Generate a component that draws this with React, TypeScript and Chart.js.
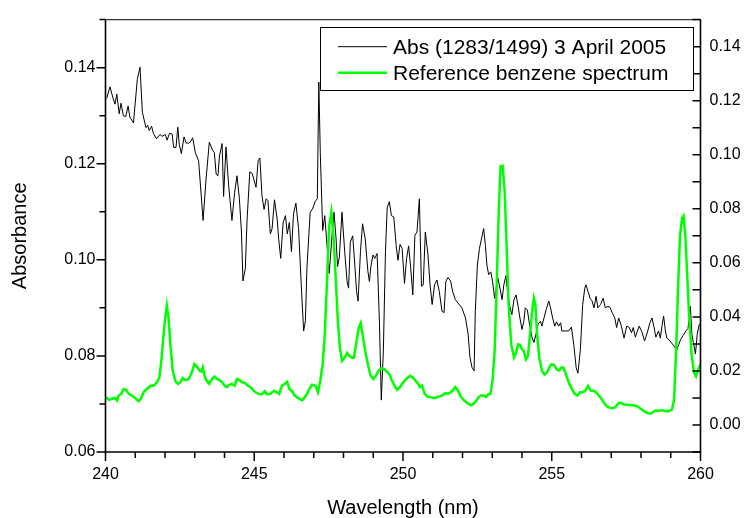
import { useEffect, useRef } from 'react';
import { Chart, registerables } from 'chart.js';

Chart.register(...registerables);

const FONT = "'Liberation Sans', Arial, Helvetica, sans-serif";

// Axis tick labels
const X_TICKS = [240, 245, 250, 255, 260];
const LEFT_TICKS = [0.06, 0.08, 0.1, 0.12, 0.14];
const RIGHT_TICKS = [0.0, 0.02, 0.04, 0.06, 0.08, 0.1, 0.12, 0.14];

const X_TITLE = 'Wavelength (nm)';
const Y_TITLE = 'Absorbance';
const SERIES_LABELS = ['Abs (1283/1499) 3 April 2005', 'Reference benzene spectrum'];

// Measured absorbance (left axis)
const ABS_NM = [
  240.04, 240.15, 240.26, 240.32, 240.38, 240.46, 240.52, 240.6, 240.68, 240.76, 240.82, 240.94,
  241.07, 241.16, 241.24, 241.36, 241.42, 241.47, 241.55, 241.61, 241.72, 241.83, 241.9, 242.01,
  242.07, 242.15, 242.24, 242.29, 242.37, 242.43, 242.48, 242.55, 242.64, 242.71, 242.8, 242.85,
  242.93, 243.02, 243.13, 243.28, 243.38, 243.49, 243.6, 243.66, 243.72, 243.78, 243.83, 243.92,
  243.97, 244.05, 244.14, 244.25, 244.34, 244.42, 244.5, 244.57, 244.62, 244.7, 244.76, 244.85,
  244.93, 245.06, 245.13, 245.19, 245.26, 245.33, 245.4, 245.46, 245.54, 245.6, 245.68, 245.77,
  245.82, 245.89, 245.97, 246.05, 246.11, 246.18, 246.25, 246.32, 246.4, 246.49, 246.58, 246.66,
  246.72, 246.77, 246.88, 246.96, 247.05, 247.12, 247.17, 247.22, 247.3, 247.37, 247.43, 247.52,
  247.61, 247.68, 247.75, 247.8, 247.86, 247.95, 248.04, 248.12, 248.17, 248.23, 248.31, 248.38,
  248.44, 248.49, 248.57, 248.64, 248.73, 248.82, 248.87, 248.92, 248.99, 249.05, 249.13, 249.21,
  249.27, 249.34, 249.41, 249.47, 249.54, 249.61, 249.69, 249.77, 249.83, 249.9, 249.97, 250.05,
  250.12, 250.19, 250.26, 250.33, 250.4, 250.47, 250.55, 250.62, 250.68, 250.75, 250.84, 250.91,
  250.98, 251.06, 251.14, 251.22, 251.31, 251.38, 251.44, 251.51, 251.6, 251.67, 251.76, 251.85,
  251.98, 252.1, 252.19, 252.25, 252.32, 252.39, 252.43, 252.5, 252.57, 252.63, 252.71, 252.77,
  252.82, 252.88, 252.95, 253.01, 253.08, 253.15, 253.19, 253.26, 253.33, 253.39, 253.46, 253.53,
  253.6, 253.66, 253.73, 253.8, 253.87, 253.93, 254.0, 254.06, 254.11, 254.18, 254.25, 254.34,
  254.4, 254.47, 254.54, 254.62, 254.67, 254.74, 254.81, 254.9, 254.96, 255.03, 255.1, 255.16,
  255.23, 255.3, 255.34, 255.46, 255.57, 255.66, 255.74, 255.82, 255.88, 255.96, 256.04, 256.11,
  256.15, 256.22, 256.29, 256.35, 256.42, 256.49, 256.55, 256.64, 256.73, 256.8, 256.89, 256.96,
  257.03, 257.12, 257.18, 257.25, 257.34, 257.43, 257.52, 257.61, 257.68, 257.74, 257.81, 257.88,
  257.94, 258.03, 258.12, 258.21, 258.3, 258.37, 258.44, 258.5, 258.59, 258.65, 258.71, 258.76,
  258.82, 258.87, 258.95, 259.04, 259.13, 259.2, 259.27, 259.33, 259.42, 259.51, 259.58, 259.66,
  259.71, 259.76, 259.83, 259.89, 259.96, 260.0,
];
const ABS_VAL = [
  0.1336, 0.136, 0.1335, 0.1324, 0.1345, 0.1304, 0.1326, 0.13, 0.1298, 0.132, 0.1297, 0.1285,
  0.1376, 0.1401, 0.1307, 0.1275, 0.128, 0.1269, 0.1278, 0.1263, 0.1252, 0.1261, 0.1257, 0.1261,
  0.1249, 0.1263, 0.1262, 0.1234, 0.1234, 0.1276, 0.124, 0.1221, 0.1256, 0.1243, 0.1243, 0.1245,
  0.1254, 0.1223, 0.1206, 0.1082, 0.1168, 0.1245, 0.1228, 0.1223, 0.1178, 0.1175, 0.1216, 0.1242,
  0.1132, 0.1235, 0.1154, 0.1082, 0.114, 0.1175, 0.1127, 0.1058, 0.0956, 0.0982, 0.1085, 0.1183,
  0.118, 0.1151, 0.1206, 0.1212, 0.1133, 0.1105, 0.1127, 0.1123, 0.1054, 0.1065, 0.1125, 0.1085,
  0.1044, 0.1003, 0.1077, 0.1092, 0.1054, 0.1078, 0.1017, 0.1096, 0.1118, 0.1065, 0.0948, 0.0852,
  0.0873, 0.0982, 0.1099, 0.1106, 0.1122, 0.1127, 0.137, 0.1223, 0.1061, 0.1092, 0.1044, 0.0972,
  0.1048, 0.1099, 0.1044, 0.0986, 0.1006, 0.1099, 0.1017, 0.0955, 0.0941, 0.1037, 0.105, 0.0989,
  0.0934, 0.0914, 0.1017, 0.1075, 0.1044, 0.0976, 0.0955, 0.0986, 0.101, 0.1003, 0.1013, 0.0866,
  0.0708, 0.0811, 0.1017, 0.1109, 0.1121, 0.1092, 0.1089, 0.103, 0.0999, 0.1032, 0.1024, 0.0951,
  0.1003, 0.1029, 0.0982, 0.0927, 0.1051, 0.1058, 0.1127, 0.0945, 0.0948, 0.1058, 0.101, 0.0948,
  0.0907, 0.0948, 0.0958, 0.0934, 0.0893, 0.089, 0.0955, 0.0963, 0.0956, 0.0934, 0.0917, 0.091,
  0.09, 0.0879, 0.0845, 0.0797, 0.0776, 0.0769, 0.0893, 0.0989, 0.1024, 0.1041, 0.1065, 0.103,
  0.0989, 0.0969, 0.0975, 0.0955, 0.092, 0.0948, 0.0962, 0.0941, 0.0917, 0.0948, 0.0967, 0.0924,
  0.09, 0.0886, 0.0917, 0.0927, 0.0903, 0.0879, 0.0855, 0.0872, 0.09, 0.0896, 0.0866, 0.0838,
  0.0828, 0.0845, 0.0866, 0.0872, 0.0862, 0.0879, 0.0896, 0.0914, 0.09, 0.0879, 0.0862, 0.0871,
  0.0862, 0.0869, 0.0852, 0.0852, 0.0852, 0.086, 0.0824, 0.0776, 0.0764, 0.0811, 0.0907, 0.0941,
  0.0948, 0.0934, 0.092, 0.0915, 0.09, 0.0924, 0.09, 0.0907, 0.092, 0.09, 0.0903, 0.0901,
  0.089, 0.0879, 0.0859, 0.0879, 0.0862, 0.0837, 0.0862, 0.0859, 0.0848, 0.0859, 0.0839, 0.0852,
  0.0862, 0.085, 0.0831, 0.0848, 0.0869, 0.0879, 0.0859, 0.0839, 0.0852, 0.0837, 0.0864, 0.0883,
  0.0852, 0.0837, 0.0833, 0.0826, 0.0819, 0.0812, 0.0824, 0.0834, 0.0843, 0.0852, 0.0857, 0.0903,
  0.0845, 0.0828, 0.0804, 0.0845, 0.0866, 0.0868,
];

// Reference benzene spectrum (right axis)
const REF_NM = [
  240.03, 240.11, 240.22, 240.33, 240.39, 240.44, 240.53, 240.61, 240.69, 240.78, 240.89, 241.0,
  241.11, 241.19, 241.28, 241.39, 241.51, 241.62, 241.73, 241.81, 241.88, 241.94, 242.01, 242.06,
  242.12, 242.18, 242.26, 242.35, 242.44, 242.52, 242.59, 242.68, 242.8, 242.89, 242.99, 243.08,
  243.16, 243.23, 243.27, 243.33, 243.41, 243.49, 243.58, 243.66, 243.75, 243.83, 243.92, 244.01,
  244.09, 244.14, 244.25, 244.34, 244.42, 244.5, 244.59, 244.68, 244.79, 244.88, 244.98, 245.04,
  245.15, 245.26, 245.35, 245.43, 245.54, 245.66, 245.77, 245.84, 245.93, 246.05, 246.11, 246.18,
  246.27, 246.36, 246.47, 246.61, 246.7, 246.77, 246.85, 246.94, 247.06, 247.14, 247.22, 247.3,
  247.37, 247.44, 247.52, 247.59, 247.67, 247.75, 247.81, 247.88, 247.95, 248.04, 248.12, 248.2,
  248.29, 248.35, 248.42, 248.51, 248.58, 248.64, 248.73, 248.82, 248.91, 249.0, 249.09, 249.18,
  249.27, 249.36, 249.45, 249.54, 249.63, 249.72, 249.8, 249.88, 249.97, 250.06, 250.15, 250.24,
  250.33, 250.42, 250.51, 250.57, 250.64, 250.73, 250.82, 250.92, 251.04, 251.09, 251.2, 251.31,
  251.42, 251.51, 251.6, 251.69, 251.76, 251.85, 251.94, 252.05, 252.16, 252.28, 252.37, 252.45,
  252.54, 252.63, 252.71, 252.79, 252.86, 252.94, 253.01, 253.08, 253.15, 253.22, 253.28, 253.35,
  253.42, 253.49, 253.55, 253.64, 253.73, 253.8, 253.87, 253.93, 254.0, 254.06, 254.13, 254.2,
  254.27, 254.34, 254.4, 254.45, 254.5, 254.58, 254.67, 254.76, 254.84, 254.92, 254.99, 255.08,
  255.16, 255.25, 255.32, 255.39, 255.46, 255.53, 255.59, 255.68, 255.77, 255.86, 255.95, 256.04,
  256.13, 256.22, 256.31, 256.4, 256.49, 256.58, 256.67, 256.76, 256.85, 256.94, 257.03, 257.14,
  257.25, 257.34, 257.43, 257.54, 257.65, 257.77, 257.88, 257.99, 258.1, 258.21, 258.33, 258.41,
  258.5, 258.59, 258.71, 258.82, 258.93, 259.04, 259.11, 259.18, 259.25, 259.31, 259.38, 259.43,
  259.49, 259.55, 259.62, 259.7, 259.78, 259.85, 259.92, 260.0,
];
const REF_VAL = [
  0.0103, 0.0093, 0.0097, 0.01, 0.0091, 0.0109, 0.0115, 0.0133, 0.013, 0.0115, 0.0109, 0.01,
  0.0088, 0.0097, 0.0121, 0.0133, 0.0145, 0.0145, 0.0158, 0.0175, 0.024, 0.032, 0.04, 0.0442,
  0.0396, 0.0298, 0.0201, 0.0162, 0.0152, 0.0158, 0.0174, 0.0166, 0.017, 0.0191, 0.0225, 0.0215,
  0.0201, 0.0198, 0.0213, 0.0182, 0.0162, 0.0152, 0.017, 0.0179, 0.017, 0.0166, 0.0158, 0.0145,
  0.014, 0.0148, 0.0152, 0.0145, 0.017, 0.0166, 0.0158, 0.0156, 0.0145, 0.014, 0.0127, 0.0121,
  0.0115, 0.0113, 0.0125, 0.0115, 0.0115, 0.0127, 0.0121, 0.0115, 0.0145, 0.0154, 0.016, 0.0133,
  0.0125, 0.0109, 0.01, 0.0091, 0.0103, 0.0115, 0.0133, 0.0149, 0.0145, 0.0121, 0.0164, 0.0225,
  0.0335, 0.0518, 0.0737, 0.0788, 0.0688, 0.0518, 0.0384, 0.0286, 0.0237, 0.0249, 0.0267, 0.0255,
  0.0249, 0.0249, 0.0298, 0.0359, 0.0377, 0.0335, 0.0274, 0.0225, 0.0182, 0.017, 0.0182, 0.0201,
  0.021, 0.0207, 0.0198, 0.0188, 0.0164, 0.0145, 0.013, 0.0137, 0.0152, 0.0164, 0.0174, 0.0182,
  0.0176, 0.0164, 0.0152, 0.014, 0.0146, 0.0115, 0.0105, 0.0103, 0.01, 0.01, 0.0105, 0.0109,
  0.0118, 0.0115, 0.0121, 0.013, 0.014, 0.0127, 0.0105, 0.0091, 0.0081, 0.0073, 0.0078, 0.0088,
  0.0103, 0.0109, 0.0109, 0.0103, 0.0113, 0.0115, 0.0164, 0.0274, 0.0518, 0.0798, 0.0957, 0.0959,
  0.0859, 0.064, 0.0444, 0.0298, 0.0249, 0.0267, 0.0298, 0.0296, 0.028, 0.0274, 0.0243, 0.0255,
  0.0335, 0.042, 0.0469, 0.0445, 0.0347, 0.0249, 0.0201, 0.0186, 0.0194, 0.0213, 0.0225, 0.0222,
  0.0207, 0.0201, 0.0213, 0.0213, 0.0194, 0.017, 0.0152, 0.0133, 0.0115, 0.0109, 0.0121, 0.0121,
  0.0127, 0.0145, 0.0127, 0.0127, 0.0121, 0.0109, 0.0097, 0.0081, 0.0069, 0.0064, 0.0062, 0.0066,
  0.0081, 0.0081, 0.0076, 0.0075, 0.0073, 0.0073, 0.0069, 0.006, 0.0052, 0.0044, 0.0042, 0.0048,
  0.0054, 0.0052, 0.0054, 0.0052, 0.0051, 0.0057, 0.0091, 0.0274, 0.0518, 0.07, 0.0765, 0.0774,
  0.07, 0.056, 0.0396, 0.0261, 0.0195, 0.018, 0.0205, 0.0225,
];

const framePlugin = {
  id: 'originFrame',
  afterDraw(chart: any) {
    const { ctx, chartArea } = chart;
    const { left, right, top, bottom } = chartArea;
    const sx = chart.scales.x;
    const sy = chart.scales.y;
    const sy2 = chart.scales.y2;
    ctx.save();
    ctx.strokeStyle = '#000';
    ctx.lineCap = 'butt';

    // frame
    ctx.lineWidth = 1.6;
    ctx.beginPath();
    ctx.moveTo(left, top);
    ctx.lineTo(left, bottom);
    ctx.lineTo(right, bottom);
    ctx.lineTo(right, top);
    ctx.stroke();
    ctx.lineWidth = 1.2;
    ctx.strokeStyle = '#333';
    ctx.beginPath();
    ctx.moveTo(left, top);
    ctx.lineTo(right, top);
    ctx.stroke();
    ctx.strokeStyle = '#000';

    // ticks (major + minor)
    ctx.lineWidth = 1.5;
    ctx.beginPath();
    for (let v = sx.min; v <= sx.max + 1e-9; v += 1) {
      const px = sx.getPixelForValue(v);
      const major = X_TICKS.some((t) => Math.abs(t - v) < 1e-6);
      ctx.moveTo(px, bottom);
      ctx.lineTo(px, bottom + (major ? 9 : 6));
    }
    for (let k = Math.round(sy.min * 100); k <= Math.round(sy.max * 100); k++) {
      const v = k / 100;
      const py = sy.getPixelForValue(v);
      const major = LEFT_TICKS.some((t) => Math.abs(t - v) < 1e-6);
      ctx.moveTo(left, py);
      ctx.lineTo(left - (major ? 9 : 6), py);
    }
    for (let k = Math.round(sy2.min * 100); k <= Math.round(sy2.max * 100); k++) {
      const v = k / 100;
      const py = sy2.getPixelForValue(v);
      ctx.moveTo(right, py);
      ctx.lineTo(right - 8, py);
    }
    ctx.stroke();

    // axis titles
    ctx.fillStyle = '#000';
    ctx.font = `20px ${FONT}`;
    ctx.textAlign = 'center';
    ctx.textBaseline = 'alphabetic';
    ctx.fillText(X_TITLE, (left + right) / 2, 514);
    ctx.save();
    ctx.translate(26, (top + bottom) / 2);
    ctx.rotate(-Math.PI / 2);
    ctx.fillText(Y_TITLE, 0, 0);
    ctx.restore();

    // legend
    const bx = 320.5, by = 27.5, bw = 373, bh = 63;
    ctx.fillStyle = '#fff';
    ctx.fillRect(bx, by, bw, bh);
    ctx.lineWidth = 1;
    ctx.strokeStyle = '#000';
    ctx.strokeRect(bx, by, bw, bh);
    const ds = chart.data.datasets;
    const rows = [46.7, 72.7];
    ctx.font = `21px ${FONT}`;
    ctx.textAlign = 'left';
    rows.forEach((ry, i) => {
      ctx.strokeStyle = ds[i].borderColor;
      ctx.lineWidth = ds[i].borderWidth;
      ctx.beginPath();
      ctx.moveTo(338, ry);
      ctx.lineTo(387, ry);
      ctx.stroke();
      ctx.fillStyle = '#000';
      ctx.fillText(ds[i].label, 393, ry + 7.5);
    });
    ctx.restore();
  },
};

export default function App() {
  const ref = useRef<HTMLCanvasElement | null>(null);
  useEffect(() => {
    if (!ref.current) return;
    const tickFont = { family: FONT, size: 16 };
    const chart = new Chart(ref.current, {
      type: 'line',
      data: {
        datasets: [
          {
            label: SERIES_LABELS[0],
            data: ABS_NM.map((x, i) => ({ x, y: ABS_VAL[i] })),
            borderColor: '#000000',
            borderWidth: 1,
            pointRadius: 0,
            tension: 0,
            yAxisID: 'y',
            order: 1,
          },
          {
            label: SERIES_LABELS[1],
            data: REF_NM.map((x, i) => ({ x, y: REF_VAL[i] })),
            borderColor: '#00FF00',
            borderWidth: 2.5,
            pointRadius: 0,
            tension: 0,
            yAxisID: 'y2',
            order: 0,
          },
        ],
      },
      options: {
        animation: false,
        responsive: false,
        devicePixelRatio: 1,
        layout: { padding: { top: 15, left: 0, right: 0, bottom: 0 } },
        plugins: { legend: { display: false }, tooltip: { enabled: false } },
        scales: {
          x: {
            type: 'linear',
            position: 'bottom',
            min: 240,
            max: 260,
            grid: { display: false, drawTicks: false },
            border: { display: false },
            ticks: { font: tickFont, color: '#000', padding: 13, maxRotation: 0, autoSkip: false, callback: (v: any) => String(v) },
            afterBuildTicks: (s: any) => { s.ticks = X_TICKS.map((value) => ({ value })); },
            afterFit: (s: any) => { s.height = 66; },
          },
          y: {
            type: 'linear',
            position: 'left',
            min: 0.06,
            max: 0.15,
            grid: { display: false, drawTicks: false },
            border: { display: false },
            ticks: { font: tickFont, color: '#000', padding: 10, autoSkip: false, callback: (v: any) => Number(v).toFixed(2) },
            afterBuildTicks: (s: any) => { s.ticks = LEFT_TICKS.map((value) => ({ value })); },
            afterFit: (s: any) => { s.width = 105.5; },
          },
          y2: {
            type: 'linear',
            position: 'right',
            min: -0.01,
            max: 0.15,
            grid: { display: false, drawTicks: false },
            border: { display: false },
            ticks: { font: tickFont, color: '#000', padding: 9, autoSkip: false, callback: (v: any) => Number(v).toFixed(2) },
            afterBuildTicks: (s: any) => { s.ticks = RIGHT_TICKS.map((value) => ({ value })); },
            afterFit: (s: any) => { s.width = 47.5; },
          },
        },
      },
      plugins: [framePlugin],
    });
    return () => chart.destroy();
  }, []);
  return (
    <div style={{ position: 'fixed', left: 0, top: 0, width: 748, height: 518, background: '#fff' }}>
      <canvas ref={ref} width={748} height={518} style={{ display: 'block' }} />
    </div>
  );
}
